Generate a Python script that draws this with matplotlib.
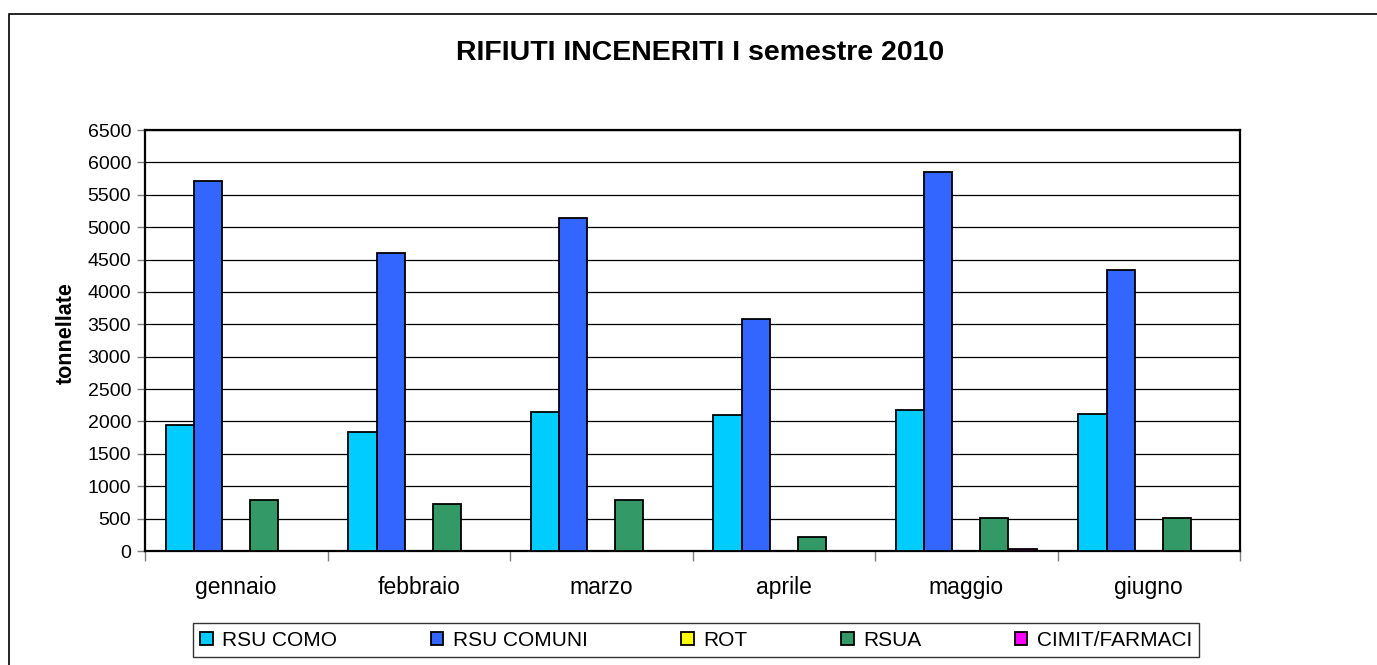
import numpy as np
import matplotlib
matplotlib.use("Agg")
import matplotlib.pyplot as plt
from matplotlib.patches import Rectangle

plt.rcParams['font.family'] = ['Liberation Sans', 'DejaVu Sans']

# data
mesi = ['gennaio', 'febbraio', 'marzo', 'aprile', 'maggio', 'giugno']
rsu_como = [1950, 1840, 2150, 2100, 2180, 2120]
rsu_comuni = [5710, 4600, 5140, 3580, 5850, 4340]
rot = [0, 0, 0, 0, 0, 0]
rsua = [790, 730, 790, 220, 510, 510]
cimit_farmaci = [0, 0, 0, 0, 25, 0]

serie = ['RSU COMO', 'RSU COMUNI', 'ROT', 'RSUA', 'CIMIT/FARMACI']
valori = [rsu_como, rsu_comuni, rot, rsua, cimit_farmaci]
colori = ['#00CCFF', '#3366FF', '#FFFF00', '#339966', '#FF00FF']

fig = plt.figure(figsize=(13.77, 6.65), dpi=100)
ax = fig.add_axes([145/1377, 1 - 551/665, (1240 - 145)/1377, (551 - 130)/665])

# outer chart border (runs off the right/bottom of the image)
fig.patches.append(Rectangle((9/1377, -0.05), 1.1, 1 - 14/665 + 0.05,
                             transform=fig.transFigure, fill=False,
                             edgecolor='black', lw=1.2))

x = np.arange(len(mesi))
w = 0.154
for i, (nome, vals, col) in enumerate(zip(serie, valori, colori)):
    ax.bar(x + (i - 2) * w, vals, w, color=col, edgecolor='black',
           linewidth=1.3, label=nome, zorder=3)

ax.set_xlim(-0.5, len(mesi) - 0.5)
ax.set_ylim(0, 6500)
ax.set_yticks(np.arange(0, 6501, 500))
ax.yaxis.grid(True, color='black', lw=0.9, zorder=0)
ax.tick_params(axis='y', labelsize=14, length=6, width=1, color='#808080', pad=4)

ax.set_xticks(x)
ax.set_xticklabels(mesi)
ax.set_xticks(np.arange(-0.5, len(mesi)), minor=True)
ax.tick_params(axis='x', which='major', length=0, labelsize=16.5, pad=18)
ax.tick_params(axis='x', which='minor', length=7, width=1, color='#808080')

for s in ax.spines.values():
    s.set_color('black')
    s.set_linewidth(1.6)

fig.text(66/1377, 1 - 333/665, 'tonnellate', rotation=90, ha='center',
         va='center', fontsize=15.5, fontweight='bold')
fig.text(700/1377, 1 - 53/665, 'RIFIUTI INCENERITI I semestre 2010',
         ha='center', va='center', fontsize=20.5, fontweight='bold')

leg = ax.legend(loc='center', bbox_to_anchor=(696/1377, 1 - 640/665),
                bbox_transform=fig.transFigure, ncol=5, fontsize=15,
                frameon=True, fancybox=False, edgecolor='black',
                handlelength=0.6, handleheight=0.6, handletextpad=0.45,
                columnspacing=4.5, borderpad=0.35)
leg.get_frame().set_linewidth(1.0)

fig.savefig('out.png', dpi=100)
